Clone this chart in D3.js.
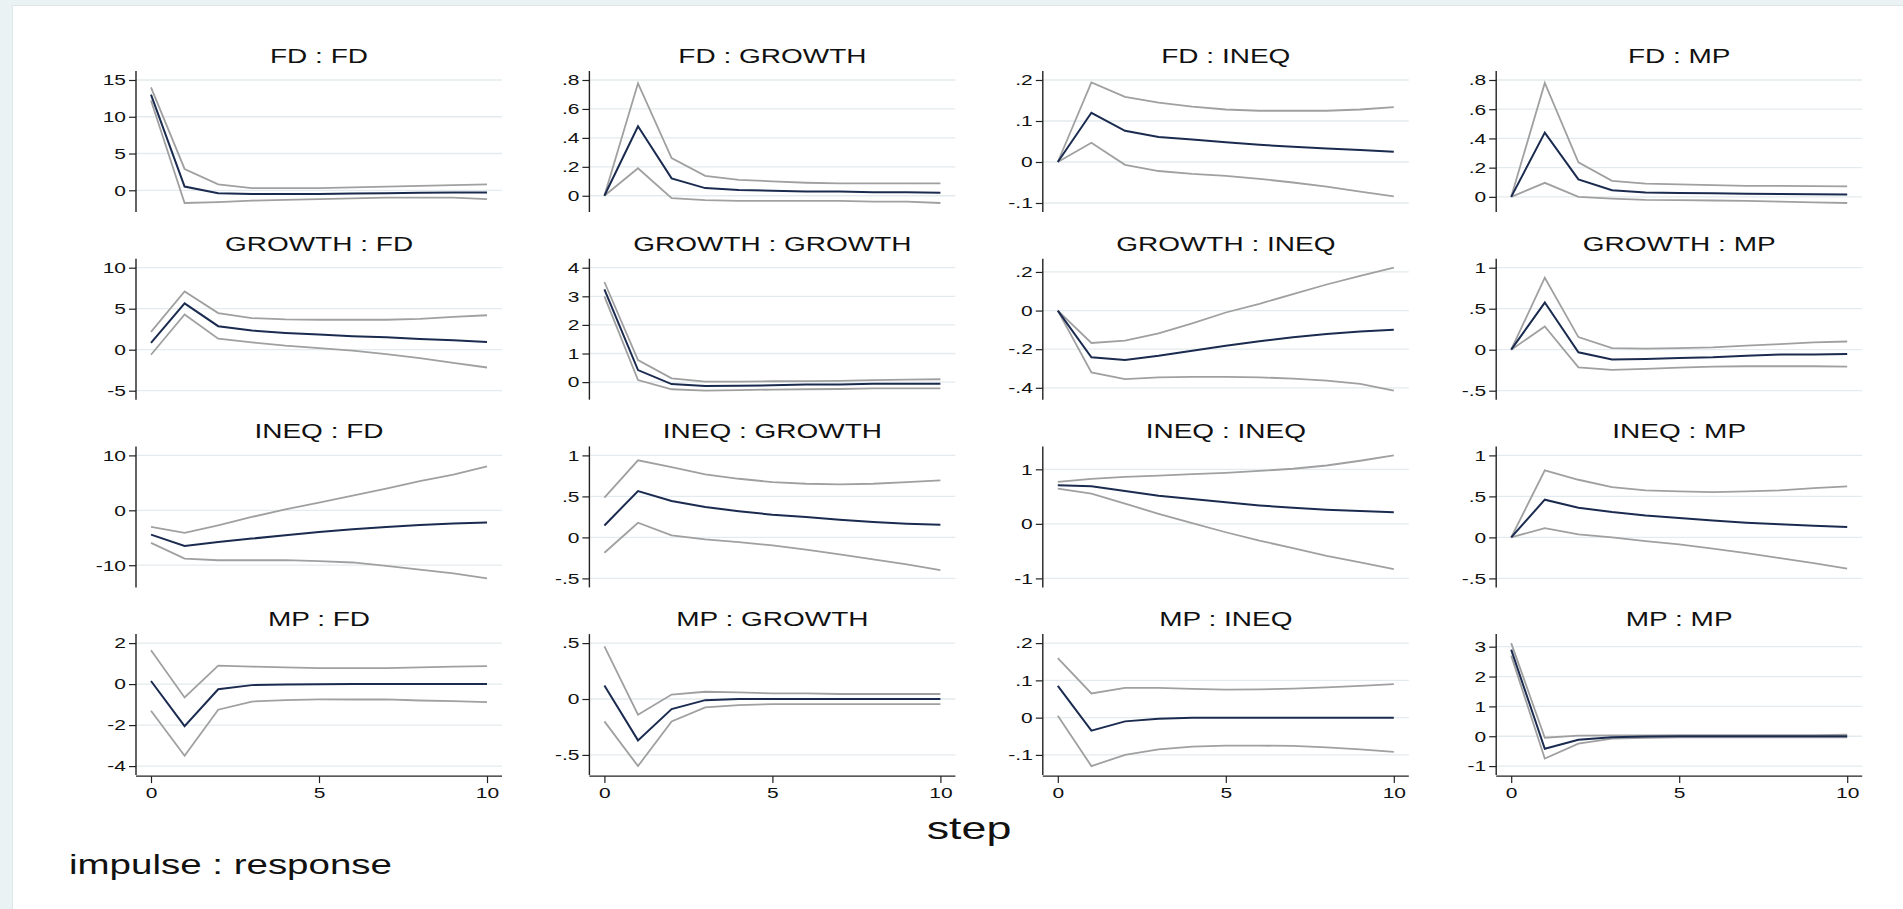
<!DOCTYPE html>
<html>
<head>
<meta charset="utf-8">
<script src="https://cdn.jsdelivr.net/npm/d3@7"></script>
<style>
  body { margin: 0; background: #ffffff; }
  svg { display: block; font-family: "Liberation Sans", Arial, sans-serif; }
</style>
</head>
<body>
<script>

// steps of the impulse response
const steps = [0, 1, 2, 3, 4, 5, 6, 7, 8, 9, 10];
const vars = ["FD", "GROWTH", "INEQ", "MP"];
const xTicks = [0, 5, 10];

// impulse FD
const fd_fd_irf = [13.0, 0.5, -0.4, -0.5, -0.5, -0.5, -0.45, -0.4, -0.35, -0.3, -0.3];
const fd_fd_hi  = [14.0, 2.9, 0.8, 0.3, 0.3, 0.3, 0.4, 0.5, 0.6, 0.7, 0.8];
const fd_fd_lo  = [12.2, -1.73, -1.6, -1.4, -1.3, -1.2, -1.1, -1.0, -1.0, -1.0, -1.2];
const fd_fd_ticks = [0, 5, 10, 15];

const fd_growth_irf = [0, 0.48, 0.12, 0.053, 0.04, 0.035, 0.03, 0.03, 0.025, 0.025, 0.02];
const fd_growth_hi  = [0, 0.777, 0.26, 0.138, 0.11, 0.10, 0.09, 0.085, 0.085, 0.085, 0.085];
const fd_growth_lo  = [0, 0.19, -0.016, -0.03, -0.035, -0.035, -0.035, -0.035, -0.04, -0.04, -0.05];
const fd_growth_ticks = [0, 0.2, 0.4, 0.6, 0.8];

const fd_ineq_irf = [0, 0.12, 0.076, 0.061, 0.055, 0.048, 0.042, 0.037, 0.033, 0.029, 0.025];
const fd_ineq_hi  = [0, 0.194, 0.159, 0.145, 0.135, 0.128, 0.125, 0.125, 0.125, 0.128, 0.134];
const fd_ineq_lo  = [0, 0.047, -0.007, -0.022, -0.029, -0.034, -0.041, -0.05, -0.06, -0.072, -0.084];
const fd_ineq_ticks = [-0.1, 0, 0.1, 0.2];

const fd_mp_irf = [0, 0.44, 0.12, 0.046, 0.03, 0.027, 0.025, 0.022, 0.02, 0.018, 0.017];
const fd_mp_hi  = [0, 0.78, 0.236, 0.11, 0.09, 0.085, 0.08, 0.075, 0.075, 0.073, 0.072];
const fd_mp_lo  = [0, 0.096, 0, -0.012, -0.02, -0.022, -0.025, -0.028, -0.032, -0.038, -0.042];
const fd_mp_ticks = [0, 0.2, 0.4, 0.6, 0.8];

// impulse GROWTH
const growth_fd_irf = [0.82, 5.65, 2.87, 2.34, 2.05, 1.85, 1.64, 1.52, 1.31, 1.15, 0.94];
const growth_fd_hi  = [2.17, 7.1, 4.47, 3.85, 3.69, 3.65, 3.65, 3.65, 3.77, 4.0, 4.2];
const growth_fd_lo  = [-0.61, 4.3, 1.35, 0.9, 0.5, 0.2, -0.12, -0.55, -1.02, -1.6, -2.17];
const growth_fd_ticks = [-5, 0, 5, 10];

const growth_growth_irf = [3.24, 0.42, -0.07, -0.14, -0.13, -0.11, -0.08, -0.08, -0.06, -0.06, -0.06];
const growth_growth_hi  = [3.5, 0.77, 0.13, 0.02, 0.02, 0.03, 0.035, 0.04, 0.07, 0.09, 0.1];
const growth_growth_lo  = [3.0, 0.07, -0.25, -0.3, -0.28, -0.26, -0.25, -0.24, -0.22, -0.22, -0.22];
const growth_growth_ticks = [0, 1, 2, 3, 4];

const growth_ineq_irf = [0, -0.242, -0.256, -0.234, -0.208, -0.182, -0.159, -0.138, -0.121, -0.109, -0.099];
const growth_ineq_hi  = [0, -0.168, -0.156, -0.118, -0.066, -0.01, 0.035, 0.085, 0.135, 0.18, 0.222];
const growth_ineq_lo  = [0, -0.32, -0.355, -0.346, -0.343, -0.343, -0.346, -0.352, -0.363, -0.38, -0.415];
const growth_ineq_ticks = [-0.4, -0.2, 0, 0.2];

const growth_mp_irf = [0, 0.575, -0.032, -0.12, -0.113, -0.10, -0.093, -0.073, -0.06, -0.06, -0.053];
const growth_mp_hi  = [0, 0.878, 0.154, 0.02, 0.012, 0.02, 0.028, 0.049, 0.069, 0.089, 0.10];
const growth_mp_lo  = [0, 0.283, -0.215, -0.247, -0.235, -0.219, -0.206, -0.202, -0.202, -0.202, -0.206];
const growth_mp_ticks = [-0.5, 0, 0.5, 1];

// impulse INEQ
const ineq_fd_irf = [-4.42, -6.48, -5.76, -5.15, -4.55, -3.94, -3.45, -3.03, -2.67, -2.42, -2.24];
const ineq_fd_hi  = [-3.03, -4.12, -2.73, -1.21, 0.18, 1.39, 2.67, 3.94, 5.33, 6.5, 8.0];
const ineq_fd_lo  = [-5.94, -8.79, -9.09, -9.09, -9.09, -9.27, -9.5, -10.1, -10.8, -11.5, -12.4];
const ineq_fd_ticks = [-10, 0, 10];

const ineq_growth_irf = [0.146, 0.565, 0.443, 0.37, 0.32, 0.276, 0.248, 0.215, 0.187, 0.167, 0.154];
const ineq_growth_hi  = [0.484, 0.94, 0.858, 0.768, 0.715, 0.675, 0.654, 0.646, 0.654, 0.675, 0.695];
const ineq_growth_lo  = [-0.187, 0.179, 0.024, -0.024, -0.057, -0.098, -0.15, -0.207, -0.268, -0.329, -0.40];
const ineq_growth_ticks = [-0.5, 0, 0.5, 1];

const ineq_ineq_irf = [0.708, 0.69, 0.603, 0.517, 0.455, 0.394, 0.338, 0.295, 0.258, 0.234, 0.215];
const ineq_ineq_hi  = [0.77, 0.825, 0.86, 0.886, 0.91, 0.935, 0.97, 1.01, 1.07, 1.157, 1.255];
const ineq_ineq_lo  = [0.646, 0.554, 0.37, 0.185, 0.012, -0.154, -0.308, -0.443, -0.585, -0.708, -0.83];
const ineq_ineq_ticks = [-1, 0, 1];

const ineq_mp_irf = [0, 0.46, 0.362, 0.31, 0.268, 0.236, 0.207, 0.179, 0.159, 0.142, 0.126];
const ineq_mp_hi  = [0, 0.817, 0.703, 0.614, 0.573, 0.561, 0.553, 0.561, 0.573, 0.602, 0.622];
const ineq_mp_lo  = [0, 0.114, 0.037, 0, -0.045, -0.085, -0.138, -0.191, -0.252, -0.313, -0.382];
const ineq_mp_ticks = [-0.5, 0, 0.5, 1];

// impulse MP
const mp_fd_irf = [0.15, -2.05, -0.25, -0.05, -0.02, -0.01, 0, 0, 0, 0, 0];
const mp_fd_hi  = [1.65, -0.65, 0.9, 0.85, 0.82, 0.78, 0.78, 0.78, 0.82, 0.85, 0.88];
const mp_fd_lo  = [-1.3, -3.5, -1.25, -0.85, -0.78, -0.75, -0.75, -0.75, -0.8, -0.83, -0.88];
const mp_fd_ticks = [-4, -2, 0, 2];

const mp_growth_irf = [0.12, -0.37, -0.09, -0.01, 0, 0, 0, 0, 0, 0, 0];
const mp_growth_hi  = [0.47, -0.14, 0.04, 0.065, 0.06, 0.05, 0.05, 0.045, 0.045, 0.045, 0.045];
const mp_growth_lo  = [-0.2, -0.6, -0.2, -0.075, -0.055, -0.045, -0.045, -0.045, -0.045, -0.045, -0.045];
const mp_growth_ticks = [-0.5, 0, 0.5];

const mp_ineq_irf = [0.085, -0.035, -0.01, -0.003, 0, 0, 0, 0, 0, 0, 0];
const mp_ineq_hi  = [0.16, 0.065, 0.08, 0.08, 0.077, 0.075, 0.076, 0.078, 0.081, 0.085, 0.09];
const mp_ineq_lo  = [0.005, -0.13, -0.1, -0.085, -0.078, -0.075, -0.075, -0.076, -0.08, -0.085, -0.092];
const mp_ineq_ticks = [-0.1, 0, 0.1, 0.2];

const mp_mp_irf = [2.9, -0.42, -0.12, -0.03, -0.01, 0, 0, 0, 0, 0, 0];
const mp_mp_hi  = [3.12, -0.05, 0.02, 0.03, 0.03, 0.04, 0.04, 0.04, 0.04, 0.04, 0.05];
const mp_mp_lo  = [2.7, -0.75, -0.25, -0.08, -0.05, -0.04, -0.04, -0.04, -0.04, -0.04, -0.04];
const mp_mp_ticks = [-1, 0, 1, 2, 3];

// panels in reading order (row = impulse, column = response)
const panels = [
    [fd_fd_irf, fd_fd_lo, fd_fd_hi, fd_fd_ticks],
    [fd_growth_irf, fd_growth_lo, fd_growth_hi, fd_growth_ticks],
    [fd_ineq_irf, fd_ineq_lo, fd_ineq_hi, fd_ineq_ticks],
    [fd_mp_irf, fd_mp_lo, fd_mp_hi, fd_mp_ticks],
    [growth_fd_irf, growth_fd_lo, growth_fd_hi, growth_fd_ticks],
    [growth_growth_irf, growth_growth_lo, growth_growth_hi, growth_growth_ticks],
    [growth_ineq_irf, growth_ineq_lo, growth_ineq_hi, growth_ineq_ticks],
    [growth_mp_irf, growth_mp_lo, growth_mp_hi, growth_mp_ticks],
    [ineq_fd_irf, ineq_fd_lo, ineq_fd_hi, ineq_fd_ticks],
    [ineq_growth_irf, ineq_growth_lo, ineq_growth_hi, ineq_growth_ticks],
    [ineq_ineq_irf, ineq_ineq_lo, ineq_ineq_hi, ineq_ineq_ticks],
    [ineq_mp_irf, ineq_mp_lo, ineq_mp_hi, ineq_mp_ticks],
    [mp_fd_irf, mp_fd_lo, mp_fd_hi, mp_fd_ticks],
    [mp_growth_irf, mp_growth_lo, mp_growth_hi, mp_growth_ticks],
    [mp_ineq_irf, mp_ineq_lo, mp_ineq_hi, mp_ineq_ticks],
    [mp_mp_irf, mp_mp_lo, mp_mp_hi, mp_mp_ticks]
];

const width = 1903;
const height = 909;

// Stata text looks stretched sideways
const SX = 1.4;

const plotW = 366;
const plotH = 141;
const padX = 15;
const padY = 9;
const tickLen = 7;

const irfColor = "#1b2b50";
const ciColor = "#a0a0a0";
const gridColor = "#e3ebee";
const axisColor = "#222";

// Stata style numbers: .5 instead of 0.5
function fmt(d) {
    return String(+d.toFixed(4)).replace(/^(-?)0\./, "$1.");
}

const svg = d3.create("svg")
    .attr("width", width)
    .attr("height", height)
    .attr("viewBox", [0, 0, width, height]);

// light graph region strip on the top and left edge only
svg.append("rect")
    .attr("width", width)
    .attr("height", height)
    .attr("fill", "#eaf2f3");

svg.append("rect")
    .attr("x", 12.5)
    .attr("y", 5.5)
    .attr("width", width)
    .attr("height", height)
    .attr("fill", "white")
    .attr("stroke", "#dce6e9");

function stretchText(g, x, y, str, size, anchor) {
    return g.append("text")
        .attr("transform", `translate(${x},${y}) scale(${SX},1)`)
        .attr("font-size", size)
        .attr("text-anchor", anchor)
        .attr("fill", "#111")
        .text(str);
}

panels.forEach((p, i) => {
    const [irf, lo, hi, ticks] = p;
    const r = Math.floor(i / 4);
    const c = i % 4;
    const x0 = 502 + c * 453.4 - plotW;
    const top = 71 + r * 187.7;

    const allVals = ticks.concat(irf, lo, hi);
    const x = d3.scaleLinear([0, 10], [x0 + padX, x0 + plotW - padX]);
    const y = d3.scaleLinear(d3.extent(allVals), [top + plotH - padY, top + padY]);

    const g = svg.append("g");

    // grid lines
    g.selectAll(".grid")
        .data(ticks)
        .join("line")
        .attr("x1", x0)
        .attr("x2", x0 + plotW)
        .attr("y1", d => y(d))
        .attr("y2", d => y(d))
        .attr("stroke", gridColor)
        .attr("stroke-width", 1.3);

    // y axis
    const ya = g.append("g")
        .attr("transform", `translate(${x0},0)`)
        .call(d3.axisLeft(y).tickValues(ticks).tickSize(tickLen).tickFormat(fmt));
    ya.select(".domain").remove();
    ya.selectAll(".tick line").attr("stroke", axisColor).attr("stroke-width", 1.2);
    ya.selectAll(".tick text")
        .attr("font-family", "Liberation Sans, Arial, sans-serif")
        .attr("font-size", 15)
        .attr("fill", "#111")
        .attr("x", -(tickLen + 3) / SX)
        .attr("transform", `scale(${SX},1)`);
    g.append("line")
        .attr("x1", x0).attr("x2", x0)
        .attr("y1", top).attr("y2", top + plotH)
        .attr("stroke", axisColor)
        .attr("stroke-width", 1.4);

    // x axis only on the bottom row
    if (r == 3) {
        const xa = g.append("g")
            .attr("transform", `translate(0,${top + plotH + 1})`)
            .call(d3.axisBottom(x).tickValues(xTicks).tickSize(tickLen).tickFormat(fmt));
        xa.select(".domain").remove();
        xa.selectAll(".tick line").attr("stroke", axisColor).attr("stroke-width", 1.2);
        xa.selectAll(".tick text")
            .attr("font-family", "Liberation Sans, Arial, sans-serif")
            .attr("font-size", 15)
            .attr("fill", "#111")
            .attr("x", 0)
            .attr("y", tickLen + 4)
            .attr("transform", `scale(${SX},1)`);
        g.append("line")
            .attr("x1", x0).attr("x2", x0 + plotW)
            .attr("y1", top + plotH + 1).attr("y2", top + plotH + 1)
            .attr("stroke", axisColor)
            .attr("stroke-width", 1.4);
    }

    const line = (vals) => d3.line()
        .x((d, j) => x(steps[j]))
        .y(d => y(d))(vals);

    g.append("path").attr("fill", "none").attr("stroke", ciColor)
        .attr("stroke-width", 1.8).attr("d", line(lo));
    g.append("path").attr("fill", "none").attr("stroke", ciColor)
        .attr("stroke-width", 1.8).attr("d", line(hi));
    g.append("path").attr("fill", "none").attr("stroke", irfColor)
        .attr("stroke-width", 2).attr("d", line(irf));

    // panel title: impulse : response
    stretchText(g, x0 + plotW / 2, top - 8, vars[r] + " : " + vars[c], 20, "middle");
});

stretchText(svg, 969, 839, "step", 32, "middle");
stretchText(svg, 69, 874, "impulse : response", 27.5, "start");

document.body.appendChild(svg.node());
</script>
</body>
</html>
